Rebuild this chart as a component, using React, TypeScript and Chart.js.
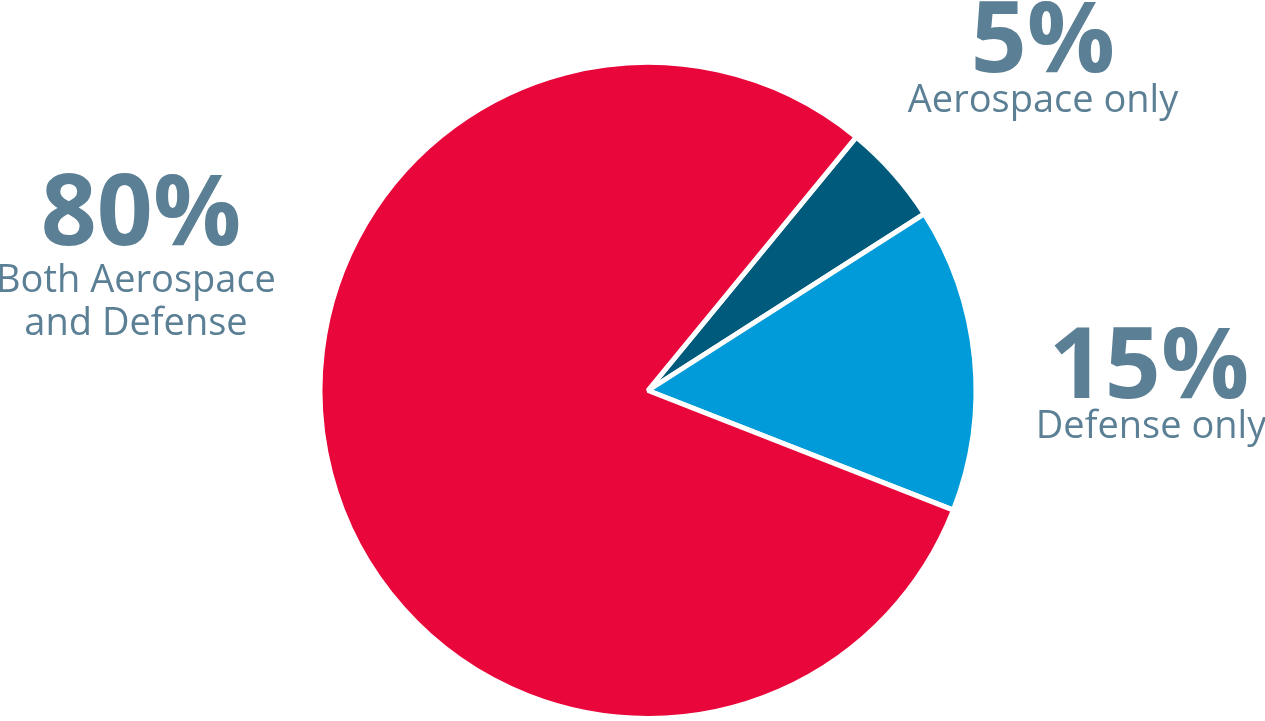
import React, { useEffect, useRef } from "react";
import { Chart, registerables } from "chart.js";

Chart.register(...registerables);

const categories = ["Aerospace only", "Defense only", "Both Aerospace and Defense"];
const shares = [5, 15, 80];
const sliceColors = ["#005A7C", "#009BD8", "#E8063A"];
const percentLabels = ["5%", "15%", "80%"];
const captionLines = [["Aerospace only"], ["Defense only"], ["Both Aerospace", "and Defense"]];

const TEXT_COLOR = "#5B7F94";

// label anchor positions (layout only)
const labelAnchors = [
  { x: 1043, y: 72, cx: 1043, cy: 112 },
  { x: 1149, y: 398, cx: 1151, cy: 438 },
  { x: 141, y: 245, cx: 136, cy: 292 },
];

const labelPlugin = {
  id: "sliceLabels",
  afterDraw(chart: any) {
    const ctx = chart.ctx;
    ctx.save();
    ctx.fillStyle = TEXT_COLOR;
    ctx.textAlign = "center";
    ctx.textBaseline = "alphabetic";
    percentLabels.forEach((p, i) => {
      const a = labelAnchors[i];
      ctx.font = "bold 98px 'Open Sans'";
      ctx.fillText(p, a.x, a.y);
      ctx.font = "38px 'Open Sans'";
      captionLines[i].forEach((line, j) => {
        ctx.fillText(line, a.cx, a.cy + j * 43);
      });
    });
    ctx.restore();
  },
};

export default function App() {
  const ref = useRef<HTMLCanvasElement | null>(null);
  useEffect(() => {
    document.body.style.margin = "0";
    document.body.style.overflow = "hidden";
    let chart: Chart | null = null;
    let cancelled = false;
    const make = () => {
      if (cancelled || !ref.current) return;
      chart = new Chart(ref.current, {
        type: "pie",
        data: {
          labels: categories,
          datasets: [
            {
              data: shares,
              backgroundColor: sliceColors,
              borderColor: "#ffffff",
              borderWidth: 5,
            },
          ],
        },
        options: {
          responsive: false,
          animation: false,
          rotation: 39.4,
          layout: { padding: { left: 316, right: 285, top: 60, bottom: -3 } },
          plugins: { legend: { display: false }, tooltip: { enabled: false } },
        },
        plugins: [labelPlugin],
      });
    };
    Promise.all([
      document.fonts.load("bold 98px 'Open Sans'"),
      document.fonts.load("38px 'Open Sans'"),
    ])
      .catch(() => {})
      .then(make);
    return () => {
      cancelled = true;
      if (chart) chart.destroy();
    };
  }, []);
  return (
    <div style={{ width: 1265, height: 721, position: "relative", overflow: "hidden" }}>
      <canvas ref={ref} width={1265} height={721} style={{ display: "block" }} />
    </div>
  );
}
